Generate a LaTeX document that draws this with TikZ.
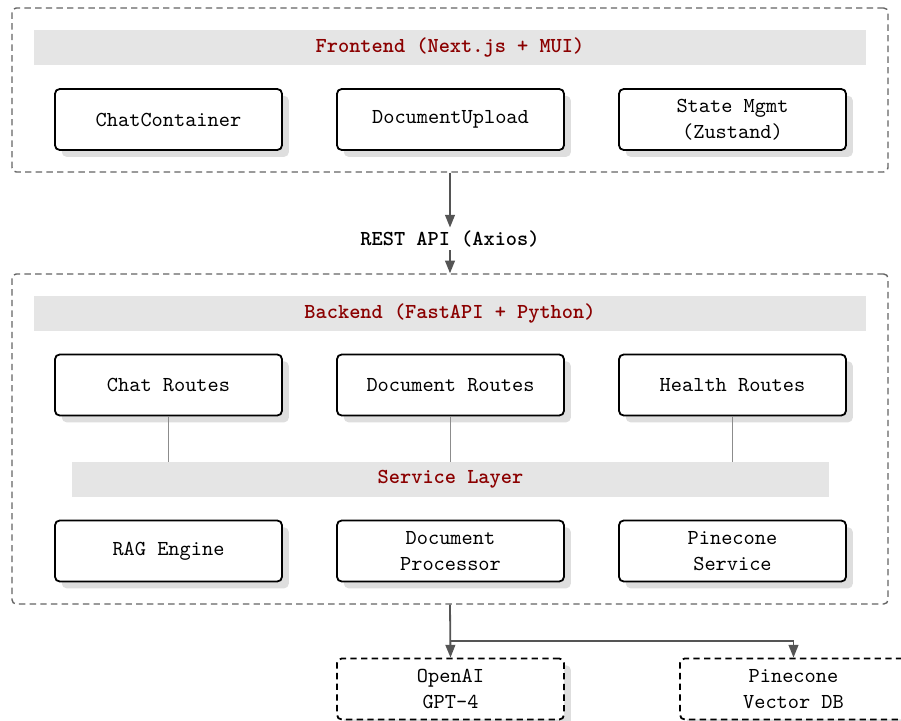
\documentclass[tikz,border=0pt]{standalone}
\usetikzlibrary{arrows.meta,shadows,positioning}
\definecolor{titlered}{RGB}{139,0,0}
\definecolor{bargray}{RGB}{229,229,229}
\definecolor{framegray}{RGB}{100,100,100}
\definecolor{arrowgray}{RGB}{85,85,85}
\definecolor{linegray}{RGB}{140,140,140}
\begin{document}
\begin{tikzpicture}[x=0.469pt,y=-0.469pt,
  every node/.style={font=\ttfamily},
  outerbox/.style={draw=framegray,dash pattern=on 3pt off 2pt,line width=0.65pt,rounded corners=2pt,
    minimum width=876*0.469pt,inner sep=0pt},
  titlebar/.style={fill=bargray,minimum height=35*0.469pt,inner sep=0pt,
    font=\ttfamily\bfseries,text=titlered},
  compbox/.style={draw=black,line width=0.85pt,rounded corners=2.2pt,fill=white,
    minimum width=227*0.469pt,minimum height=61*0.469pt,inner sep=0pt,
    align=center,
    general shadow={fill=black!13,shadow xshift=3.2pt,shadow yshift=-3.2pt}},
  extbox/.style={compbox,dash pattern=on 3pt off 2pt},
  arr/.style={draw=arrowgray,line width=0.85pt,-{Triangle[length=6pt,width=4.6pt]}},
  link/.style={draw=linegray,line width=0.8pt}
]
\useasboundingbox (0,0) rectangle (901,721);

% Frontend
\node[outerbox,minimum height=164*0.469pt] (fe) at (450,90) {};
\node[titlebar,minimum width=832*0.469pt] (fet) at (450,47.5) {Frontend (Next.js + MUI)};
\node[compbox] (cc) at (168.5,119.5) {ChatContainer};
\node[compbox] (du) at (450.5,119.5) {DocumentUpload};
\node[compbox] (sm) at (732.5,119.5) {State Mgmt\\(Zustand)};

% REST label
\node[font=\ttfamily\bfseries,inner sep=0pt,minimum height=22*0.469pt] (api) at (450,239) {REST API (Axios)};

% Backend
\node[outerbox,minimum height=330*0.469pt] (be) at (450,439) {};
\node[titlebar,minimum width=832*0.469pt] (bet) at (450,313.5) {Backend (FastAPI + Python)};
\node[compbox] (cr) at (168.5,385) {Chat Routes};
\node[compbox] (dr) at (450.5,385) {Document Routes};
\node[compbox] (hr) at (732.5,385) {Health Routes};
\node[titlebar,minimum width=757*0.469pt] (sl) at (450.5,479.5) {Service Layer};
\node[compbox] (rag) at (168.5,551) {RAG Engine};
\node[compbox] (dp) at (450.5,551) {Document\\Processor};
\node[compbox] (ps) at (732.5,551) {Pinecone\\Service};

% External
\node[extbox] (oai) at (450.5,689) {OpenAI\\GPT-4};
\node[extbox] (pc) at (793.5,689) {Pinecone\\Vector DB};

% Connectors
\draw[arr] (fe.south) -- (api.north);
\draw[arr] (api.south) -- (be.north);
\draw[link] (cr.south) -- (cr.south |- sl.north);
\draw[link] (dr.south) -- (dr.south |- sl.north);
\draw[link] (hr.south) -- (hr.south |- sl.north);
\coordinate (split) at (450,641);
\draw[arr] (be.south) -- (oai.north);
\draw[arr] (split) -| (pc.north);
\end{tikzpicture}
\end{document}
